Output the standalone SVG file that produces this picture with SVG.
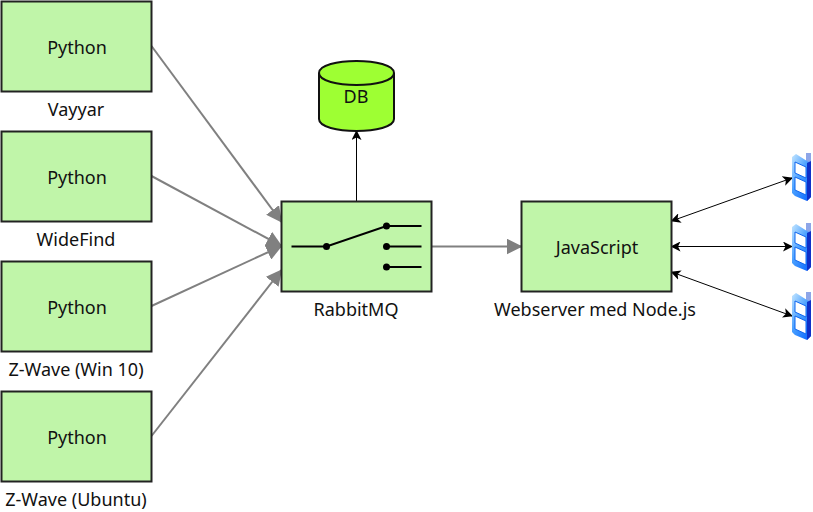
<svg xmlns="http://www.w3.org/2000/svg" width="813" height="512" viewBox="0 0 813 512">
<style>
text{font-family:"Noto Sans","Open Sans",sans-serif;font-size:18px;fill:#111;text-anchor:middle}
.b{fill:#c0f5a9;stroke:#222;stroke-width:2}
.g{stroke:#808080;stroke-width:2;fill:none;marker-end:url(#ga)}
.k{stroke:#000;stroke-width:1;fill:none;marker-end:url(#ka);marker-start:url(#ks)}
.s{stroke:#000;stroke-width:2;fill:none}
</style>
<defs>
<marker id="ga" viewBox="0 0 16 16" refX="15" refY="8" markerWidth="16" markerHeight="16" markerUnits="userSpaceOnUse" orient="auto"><path d="M0 0L16 8L0 16z" fill="#808080"/></marker>
<marker id="ka" viewBox="0 0 10 10" refX="9" refY="5" markerWidth="10" markerHeight="10" markerUnits="userSpaceOnUse" orient="auto"><path d="M0 0L10 5L0 10L2.500 5z" fill="#000"/></marker>
<marker id="ks" viewBox="0 0 10 10" refX="1" refY="5" markerWidth="10" markerHeight="10" markerUnits="userSpaceOnUse" orient="auto"><path d="M10 0L0 5L10 10L7.500 5z" fill="#000"/></marker>
<linearGradient id="ph" x1="0" y1="0" x2="0.800" y2="1"><stop offset="0" stop-color="#c4e6ff"/><stop offset="0.500" stop-color="#4aa0ff"/><stop offset="1" stop-color="#0f6cff"/></linearGradient>
<g id="phone">
<rect x="14" y="0" width="5" height="12" fill="#8ea6e8"/>
<path d="M0 4L4 1L15 8L19 10V44L15 48L3 43L0 40z" fill="url(#ph)"/>
<path d="M15 10L19 8V44L15 48z" fill="#0f30c8"/>
<path d="M3 9L14 14V25L3 20z M3 24L14 29V42L3 37z" fill="#fff" stroke="#0f66f0"/>
</g>
</defs>
<g id="connectors">
<path class="g" d="M151.500 46L281.500 222"/>
<path class="g" d="M151.500 176L281.500 246"/>
<path class="g" d="M151.500 306L281.500 246"/>
<path class="g" d="M151.500 436L281.500 270"/>
<path class="g" d="M431.500 246.500H521.500"/>
<path d="M356.500 201V131" stroke="#000" fill="none" marker-end="url(#ka)"/>
<path class="k" d="M671.500 221L792 178"/>
<path class="k" d="M671.500 246.500H792"/>
<path class="k" d="M671.500 272L792 316"/>
</g>
<g id="n1"><rect class="b" x="1.500" y="1.500" width="150" height="90"/><text x="77" y="54">Python</text><text x="76" y="116">Vayyar</text></g>
<g id="n2"><rect class="b" x="1.500" y="131.500" width="150" height="90"/><text x="77" y="184">Python</text><text x="76" y="246">WideFind</text></g>
<g id="n3"><rect class="b" x="1.500" y="261.500" width="150" height="90"/><text x="77" y="314">Python</text><text x="76" y="376">Z-Wave (Win 10)</text></g>
<g id="n4"><rect class="b" x="1.500" y="391.500" width="150" height="90"/><text x="77" y="444">Python</text><text x="76" y="506">Z-Wave (Ubuntu)</text></g>
<g id="rabbit"><rect class="b" x="281.500" y="201.500" width="150" height="90"/>
<path class="s" d="M291.500 246.500H326.500L386.500 226H421.500M386.500 246.500H421.500M386.500 267H421.500"/>
<circle cx="326.500" cy="246.500" r="3.500"/><circle cx="386.500" cy="226" r="3.500"/><circle cx="386.500" cy="246.500" r="3.500"/><circle cx="386.500" cy="267" r="3.500"/>
<text x="356" y="316">RabbitMQ</text></g>
<g id="db"><path d="M319 73C319 57 394 57 394 73V119C394 135 319 135 319 119z" fill="#9eff33" stroke="#111" stroke-width="2"/><path d="M319 73C319 89 394 89 394 73" fill="none" stroke="#111" stroke-width="2"/><text x="356" y="103">DB</text></g>
<g id="js"><rect class="b" x="521.500" y="201.500" width="150" height="90"/><text x="597" y="254">JavaScript</text><text x="595" y="316">Webserver med Node.js</text></g>
<use id="p1" href="#phone" x="792" y="153"/>
<use id="p2" href="#phone" x="792" y="223"/>
<use id="p3" href="#phone" x="792" y="292"/>
</svg>
